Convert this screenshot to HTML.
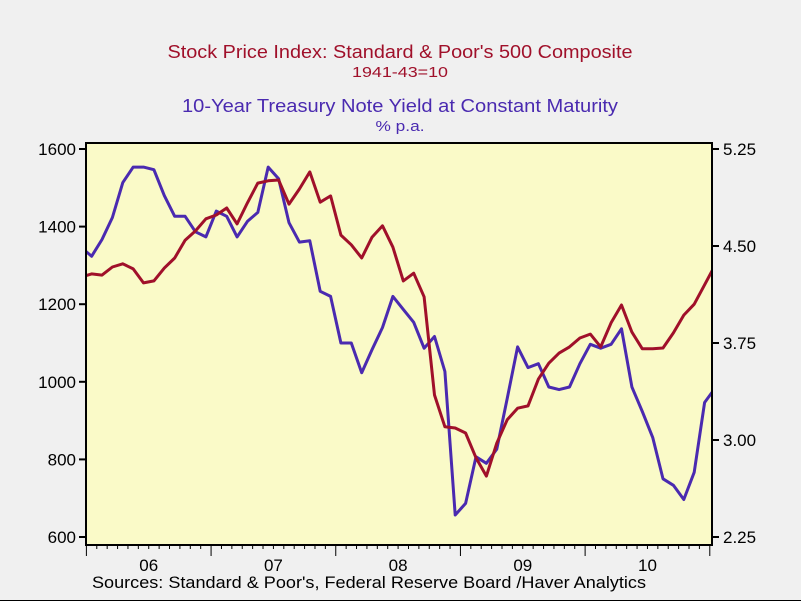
<!DOCTYPE html>
<html><head><meta charset="utf-8"><style>
html,body{margin:0;padding:0;background:#f0f0f0;}
svg{display:block;font-family:"Liberation Sans",sans-serif;}
</style></head><body>
<svg id="chart" width="801" height="601" viewBox="0 0 801 601" xmlns="http://www.w3.org/2000/svg">
<rect x="0" y="0" width="801" height="601" fill="#f0f0f0"/>
<line x1="0" y1="600.5" x2="801" y2="600.5" stroke="#000" stroke-width="1"/>
<text x="400" y="58" text-anchor="middle" font-size="18" textLength="465" lengthAdjust="spacingAndGlyphs" fill="#a0102a">Stock Price Index: Standard &amp; Poor's 500 Composite</text>
<text x="400" y="77" text-anchor="middle" font-size="15" textLength="96" lengthAdjust="spacingAndGlyphs" fill="#a0102a">1941-43=10</text>
<text x="400" y="112" text-anchor="middle" font-size="18" textLength="436" lengthAdjust="spacingAndGlyphs" fill="#4a2ab0">10-Year Treasury Note Yield at Constant Maturity</text>
<text x="400" y="131" text-anchor="middle" font-size="15" textLength="49" lengthAdjust="spacingAndGlyphs" fill="#4a2ab0">% p.a.</text>
<rect x="86" y="143" width="626" height="402" fill="#fafac8" stroke="#000" stroke-width="2"/>
<defs><clipPath id="clip"><rect x="87" y="144" width="624" height="400"/></clipPath></defs>
<g id="axes"></g>
<g id="series" clip-path="url(#clip)"></g>
<text x="92" y="588" font-size="17" textLength="554" lengthAdjust="spacingAndGlyphs" fill="#000">Sources:  Standard &amp; Poor's, Federal Reserve Board /Haver Analytics</text>
</svg>
<script>
const spValues = [1270,1278,1275,1296,1304,1291,1255,1260,1293,1319,1365,1389,1420,1430,1448,1407,1461,1512,1518,1520,1458,1497,1541,1463,1479,1378,1353,1319,1373,1402,1347,1260,1280,1219,966,884,881,868,804,757,842,902,932,938,1007,1048,1074,1090,1113,1123,1090,1152,1198,1128,1085,1085,1087,1126,1172,1200,1250,1300];
const yieldValues = [4.49,4.42,4.55,4.72,4.99,5.11,5.11,5.09,4.89,4.73,4.73,4.61,4.57,4.77,4.73,4.57,4.69,4.76,5.11,5.02,4.68,4.53,4.54,4.15,4.11,3.75,3.75,3.52,3.70,3.87,4.11,4.01,3.91,3.71,3.80,3.53,2.42,2.51,2.87,2.82,2.93,3.32,3.72,3.56,3.59,3.41,3.39,3.41,3.59,3.74,3.71,3.74,3.86,3.41,3.22,3.02,2.70,2.65,2.54,2.75,3.29,3.40];
const leftTicks = [600,800,1000,1200,1400,1600];
const rightTicks = [2.25,3.00,3.75,4.50,5.25];
const yearLabels = ["06","07","08","09","10"];

const NS = "http://www.w3.org/2000/svg";
const X0 = 81.2, DX = 10.39;
function xScale(i){ return X0 + DX*i; }
function yLeft(v){ return 537 - (v-600)*0.388; }
function yRight(v){ return 537 - (v-2.25)/3*388; }
function mk(tag, attrs, parent){
  const el = document.createElementNS(NS, tag);
  for (const k in attrs) el.setAttribute(k, attrs[k]);
  parent.appendChild(el);
  return el;
}
const axes = document.getElementById('axes');
const series = document.getElementById('series');

leftTicks.forEach(v=>{
  const y = yLeft(v);
  const t = mk('line',{x1:79,x2:86,y1:y,y2:y,stroke:'#000','stroke-width':2},axes);
  
  
  const l = mk('text',{x:76,y:y+6,'text-anchor':'end','font-size':17,fill:'#000'},axes);
  l.textContent = v;
  
  
});
rightTicks.forEach(v=>{
  const y = yRight(v);
  const t = mk('line',{x1:712,x2:719,y1:y,y2:y,stroke:'#000','stroke-width':2},axes);
  
  
  const l = mk('text',{x:723,y:y+6,'font-size':17,fill:'#000'},axes);
  l.textContent = v.toFixed(2);
  
  
});
for (let m=0; m<=60; m++){
  const x = xScale(m+0.5);
  const major = (m%12)===0;
  const t = mk('line',{x1:x,x2:x,y1:545,y2:major?556:549,stroke:'#000','stroke-width':1},axes);
  
  
}
yearLabels.forEach((lab,k)=>{
  const x = xScale(0.5+12*k+6);
  const l = mk('text',{x:x,y:571,'text-anchor':'middle','font-size':17,fill:'#000'},axes);
  l.textContent = lab;
  
  
});
function line(vals, yf, color, name){
  const pts = vals.map((v,i)=>xScale(i).toFixed(1)+','+yf(v).toFixed(1)).join(' ');
  const p = mk('polyline',{points:pts,fill:'none',stroke:color,'stroke-width':3,'stroke-linejoin':'round'},series);
  
  
}
line(yieldValues, yRight, '#4a2ab0', 'treasury-yield-line');
line(spValues, yLeft, '#a0102a', 'sp500-line');
</script>
</body></html>
